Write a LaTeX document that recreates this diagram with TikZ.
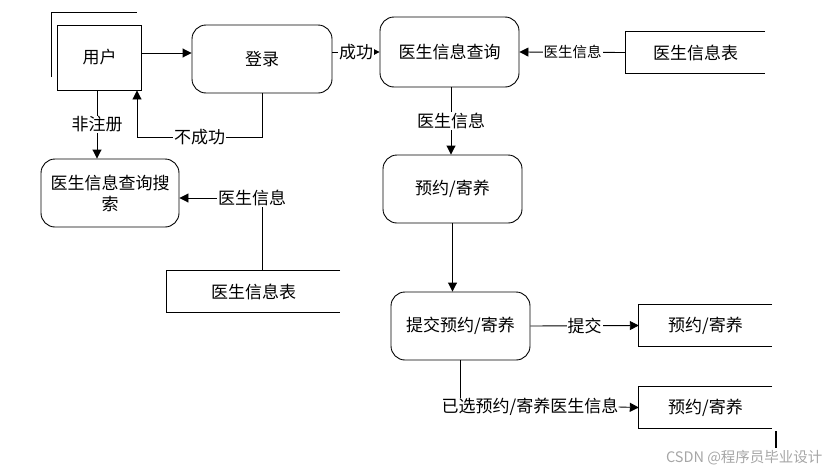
\documentclass[tikz,border=0pt]{standalone}
\usepackage{fontspec}
\newfontfamily\cjk{Noto Sans CJK SC}
\usetikzlibrary{arrows.meta}
\tikzstyle{proc}=[draw,rounded corners=14pt,line width=0.9pt,inner sep=0pt,align=center]
\tikzstyle{store}=[inner sep=0pt]
\tikzstyle{lbl}=[fill=white,inner sep=1pt]
\tikzstyle{edge}=[draw,line width=0.9pt]
\tikzstyle{arr}=[draw,line width=0.9pt,-{Triangle[length=9pt,width=9pt]}]

\begin{document}
\begin{tikzpicture}[x=1pt,y=-1pt,font=\cjk\fontsize{17}{21}\selectfont]
    \useasboundingbox (0,0) rectangle (837,474);
    % the processes and the entity
    \node[draw,line width=0.9pt,minimum width=84pt,minimum height=65pt] (user) at (99.5,57.5) {用户};
    \draw[edge] (51,77) -- (51,12) -- (137,12);
    \node[proc,minimum width=140pt,minimum height=68pt] (login) at (262,59) {登录};
    \node[proc,minimum width=138pt,minimum height=68pt] (search) at (110,193) {医生信息查询搜\\索};
    \node[proc,minimum width=139pt,minimum height=70pt] (query) at (449.5,52) {医生信息查询};
    \node[proc,minimum width=139pt,minimum height=68pt] (yuyue) at (452.5,189) {预约/寄养};
    \node[proc,minimum width=139pt,minimum height=68pt] (tijiao) at (460.5,326) {提交预约/寄养};

    % the data stores, open on the right
    \foreach \pos/\name/\w/\txt in {{(695.5,52.5)/docA/139/医生信息表}, {(253.5,291.5)/docB/173/医生信息表}, {(705.5,325.5)/resA/133/{预约/寄养}}, {(705.5,407.5)/resB/133/{预约/寄养}}}
        \node[store,minimum width=\w pt,minimum height=41pt] (\name) at \pos {\txt};
    \foreach \name in {docA, docB, resA, resB}
        \path[edge] (\name.north east) -- (\name.north west) -- (\name.south west) -- (\name.south east);

    % connect them
    \path[arr] ([yshift=4.5pt]user.east) -- ([yshift=4.5pt]user.east -| login.west);
    \path[edge,-{Triangle[length=6pt,width=6pt]}] (login.east |- query.west) -- node[lbl] {成功} (query.west);
    \coordinate (fail) at (137,137);
    \path[arr] (login.south) |- node[lbl,pos=0.75] {不成功} (fail) -- (fail |- user.south);
    \path[arr] ([xshift=-2.5pt]user.south) -- node[lbl] {非注册} ([xshift=-2.5pt]user.south |- search.north);
    \node[lbl] (infoL) at (252,198) {医生信息};
    \path[edge] ([xshift=8.5pt]docB.north) -- ([xshift=8.5pt]docB.north |- infoL.south);
    \path[arr] (infoL.west) -- (infoL.west -| search.east);
    \path[arr] (docA.west) -- node[lbl,font=\cjk\fontsize{14.5}{16}\selectfont] {医生信息} (query.east);
    \path[arr] ([xshift=1.5pt]query.south) -- node[lbl] {医生信息} ([xshift=1.5pt]query.south |- yuyue.north);
    \path[arr] (yuyue.south) -- (yuyue.south |- tijiao.north);
    \path[arr] (tijiao.east) -- node[lbl] {提交} (resA.west);
    \node[lbl,inner sep=0pt] (sel) at (530,407) {已选预约/寄养医生信息};
    \path[edge] (tijiao.south) -- (tijiao.south |- sel.north);
    \path[arr] (sel.east) -- (resB.west);
    \draw[line width=1.3pt] (776,431) -- (776,448);

    \node[anchor=east,text=black!35,font=\cjk\fontsize{14.5}{16}\selectfont] (mark) at (826,458) {CSDN @程序员毕业设计};
\end{tikzpicture}
\end{document}
